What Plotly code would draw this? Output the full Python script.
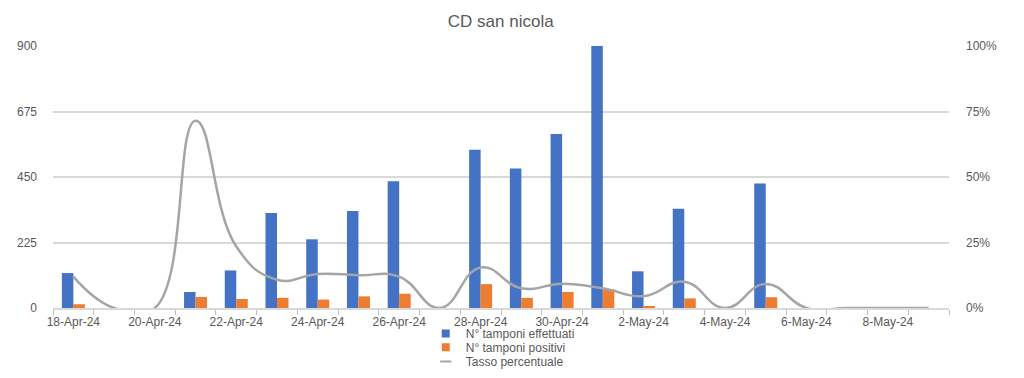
import plotly.graph_objects as go

categories = ["18-Apr-24", "19-Apr-24", "20-Apr-24", "21-Apr-24", "22-Apr-24", "23-Apr-24",
              "24-Apr-24", "25-Apr-24", "26-Apr-24", "27-Apr-24", "28-Apr-24", "29-Apr-24",
              "30-Apr-24", "1-May-24", "2-May-24", "3-May-24", "4-May-24", "5-May-24",
              "6-May-24", "7-May-24", "8-May-24", "9-May-24"]
effettuati = [120, 0, 0, 55, 129, 326, 236, 333, 435, 0, 544, 479,
              598, 900, 126, 341, 0, 428, 0, 0, 0, 0]
positivi = [13, 0, 0, 38, 31, 35, 29, 40, 49, 0, 82, 35,
            55, 64, 4, 33, 0, 37, 0, 0, 0, 0]
tasso = [0.12, 0.0, 0.0, 0.715, 0.235, 0.108, 0.13, 0.125, 0.12, 0.0, 0.155, 0.075,
         0.093, 0.075, 0.045, 0.10, 0.0, 0.092, 0.0, 0.0, 0.0, 0.0]
tick_labels = [c if i % 2 == 0 else "" for i, c in enumerate(categories)]
left_ticks = [0, 225, 450, 675, 900]
right_ticks = [0, 0.25, 0.5, 0.75, 1.0]
right_labels = ["0%", "25%", "50%", "75%", "100%"]

BLUE = "#4472C4"
ORANGE = "#ED7D31"
GREY = "#A5A5A5"
TXT = "#595959"
FONT = "Liberation Sans, Arial, sans-serif"

fig = go.Figure()
fig.add_trace(go.Bar(x=categories, y=effettuati, name="N° tamponi effettuati",
                     marker=dict(color=BLUE, line=dict(width=0)), showlegend=False, yaxis="y"))
fig.add_trace(go.Bar(x=categories, y=positivi, name="N° tamponi positivi",
                     marker=dict(color=ORANGE, line=dict(width=0)), showlegend=False, yaxis="y"))
fig.add_trace(go.Scatter(x=categories, y=tasso, name="Tasso percentuale", mode="lines",
                         line=dict(color=GREY, width=2.5, shape="spline", smoothing=1.3),
                         showlegend=False, yaxis="y2"))

# legend entries
fig.add_trace(go.Scatter(x=[None], y=[None], mode="markers", name="N° tamponi effettuati",
                         marker=dict(symbol="square", size=8, color=BLUE), legend="legend"))
fig.add_trace(go.Scatter(x=[None], y=[None], mode="markers", name="N° tamponi positivi",
                         marker=dict(symbol="square", size=8, color=ORANGE), legend="legend2"))
fig.add_trace(go.Scatter(x=[None], y=[None], mode="markers", name="Tasso percentuale",
                         marker=dict(symbol="line-ew", size=8, line=dict(color=GREY, width=2)),
                         legend="legend3"))

leg_common = dict(x=0.416, xanchor="left", yanchor="middle", bgcolor="rgba(0,0,0,0)",
                  font=dict(family=FONT, size=12, color=TXT), itemwidth=30)

fig.update_layout(
    width=1016, height=370,
    margin=dict(l=45, r=75, t=38, b=70, autoexpand=False),
    paper_bgcolor="white", plot_bgcolor="white",
    font=dict(family=FONT, size=12, color=TXT),
    title=dict(text="CD san nicola", x=0.485, xanchor="center", y=0.965, yanchor="middle",
               font=dict(family=FONT, size=17, color=TXT)),
    barmode="group", bargap=0.435, bargroupgap=0,
    xaxis=dict(type="category", categoryorder="array", categoryarray=categories,
               tickmode="array", tickvals=categories, ticktext=tick_labels,
               tickson="boundaries", ticks="outside", ticklen=5, tickcolor="#BFBFBF",
               showline=True, linecolor="#D9D9D9", linewidth=1.5, showgrid=False,
               tickfont=dict(size=12, color=TXT), tickangle=0, ticklabelstandoff=2),
    yaxis=dict(range=[0, 900], tickmode="array", tickvals=left_ticks,
               showgrid=True, gridcolor="#D9D9D9", gridwidth=1.5, zeroline=False,
               showline=False, ticks="", ticklabelstandoff=15,
               tickfont=dict(size=12, color=TXT)),
    yaxis2=dict(range=[0, 1], overlaying="y", side="right", tickmode="array",
                tickvals=right_ticks, ticktext=right_labels, showgrid=False,
                zeroline=False, showline=False, ticks="", ticklabelstandoff=16,
                tickfont=dict(size=12, color=TXT)),
    legend=dict(y=-0.097, **leg_common),
    legend2=dict(y=-0.150, **leg_common),
    legend3=dict(y=-0.204, **leg_common),
)

fig.write_html("out.html")
